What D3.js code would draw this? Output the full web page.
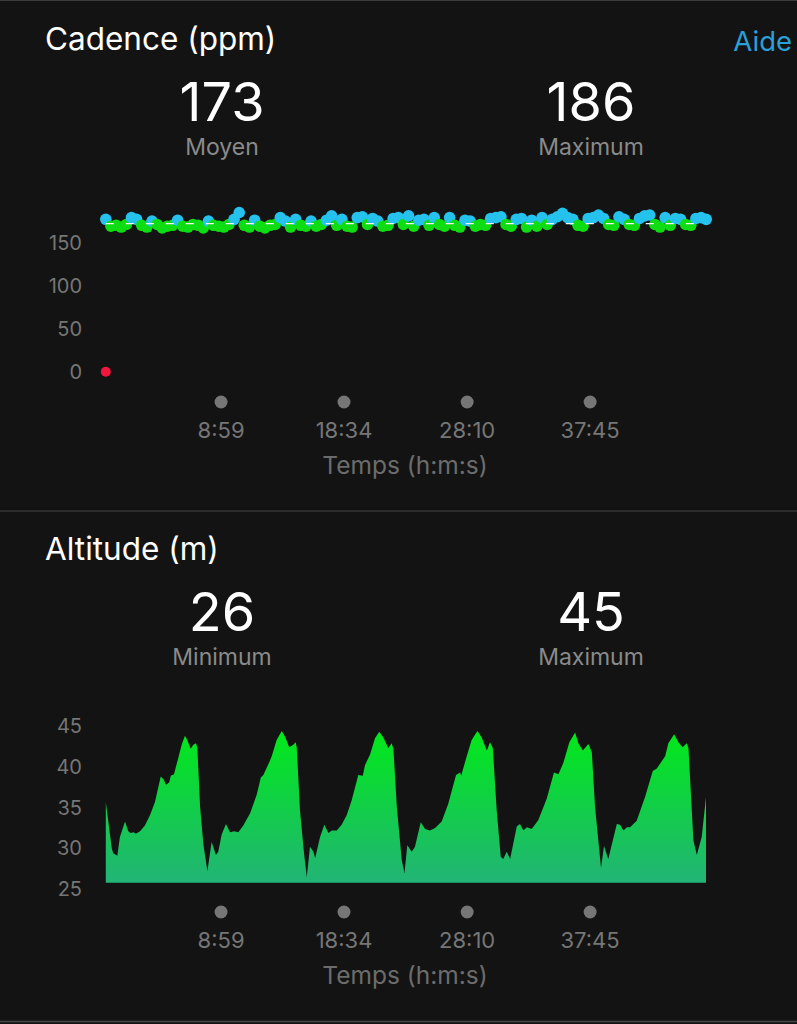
<!DOCTYPE html>
<html>
<head>
<meta charset="utf-8">
<script src="https://cdn.jsdelivr.net/npm/d3@7"></script>
<style>
  html, body { margin: 0; padding: 0; background: #131313; }
  svg { display: block; }
  text { font-family: Inter, Roboto, "Noto Sans", sans-serif; }
</style>
</head>
<body>
<script>
// ---------------- DATA ----------------
const timeTickSeconds = [539, 1114, 1690, 2265];
const timeTickLabels = ["8:59", "18:34", "28:10", "37:45"];
const totalSeconds = 2807;

// Cadence (ppm) — one sample every cadenceInterval seconds
const cadenceInterval = 24;
const cadenceValues = [
  178,170,171,169,172,180,178,171,169,176,172,168,170,171,177,170,169,172,171,168,
  176,171,170,169,172,178,186,171,169,177,170,168,171,172,180,176,169,178,171,170,
  176,170,172,177,182,171,178,170,169,180,181,172,179,176,170,171,179,180,172,182,
  170,177,178,171,180,172,170,180,171,169,177,176,170,172,171,179,180,181,172,170,
  178,179,169,177,170,180,172,178,181,185,180,178,171,170,179,180,183,179,172,171,
  181,178,172,171,179,182,183,172,169,180,171,179,178,172,171,179,180,178
];
const cadenceDropoutTimes = [0];
const cadenceDropoutValues = [0];
const cadenceAverage = 173;
const cadenceMax = 186;
const cadenceTicks = [0, 50, 100, 150];
// Garmin cadence zones: lower bound of zone -> colour
const cadenceZoneBounds = [1, 174];
const cadenceZoneColors = ["#f2163f", "#0ddd12", "#25c2ee"];

// Altitude (m)
const altitudeTimes = [
  0,28,35,54,66,90,105,116,129,141,160,183,207,230,257,269,282,297,304,319,
  334,355,370,381,397,409,422,428,441,456,475,495,515,526,542,562,581,600,620,643,
  675,706,725,737,765,776,799,823,838,858,877,888,893,908,927,940,955,971,979,1002,
  1022,1041,1057,1080,1103,1127,1150,1181,1202,1212,1236,1259,1279,1298,1321,1337,1345,1361,1384,1397,
  1410,1431,1446,1473,1493,1516,1540,1571,1602,1638,1657,1662,1688,1711,1738,1758,1782,1797,1810,1828,
  1847,1859,1875,1891,1922,1937,1953,1969,1992,2023,2062,2096,2117,2140,2168,2195,2210,2231,2257,2273,
  2288,2316,2330,2350,2390,2405,2421,2437,2452,2483,2522,2558,2577,2616,2631,2658,2678,2698,2717,2725,
  2748,2764,2787,2807
];
const altitudeValues = [
  35.7,30.0,29.4,29.1,31.4,33.3,32.1,31.9,32.0,31.8,32.1,32.8,34.1,35.7,38.8,38.5,37.8,38.1,38.9,39.1,
  40.6,42.7,43.8,43.3,42.2,42.7,42.9,42.3,35.1,30.6,27.2,30.8,29.2,29.6,31.7,33.0,32.0,32.1,32.0,32.8,
  34.3,36.6,38.7,39.0,40.6,41.3,43.3,44.4,43.7,42.4,42.7,43.0,42.4,34.7,29.4,26.5,30.2,29.6,28.8,31.4,
  32.9,31.9,32.2,32.2,32.9,34.1,35.9,39.0,38.9,40.2,41.5,43.5,44.3,43.6,42.3,42.9,42.2,35.1,28.6,27.0,
  30.4,29.6,30.2,33.2,32.4,32.2,32.5,33.3,35.5,39.0,39.3,38.9,41.3,43.3,44.4,43.6,42.0,43.0,42.3,34.7,
  29.0,28.7,29.6,28.7,32.7,33.0,32.2,32.6,32.4,33.5,36.1,39.3,39.1,40.5,43.0,44.2,42.9,42.0,42.8,41.8,
  35.1,27.6,30.3,28.7,33.0,32.9,32.2,32.6,32.6,33.4,36.3,39.5,39.8,41.3,42.9,44.0,43.0,42.4,42.9,42.3,
  31.0,29.2,31.4,36.3
];
const altitudeMin = 26;
const altitudeMax = 45;
const altitudeBase = 25.8;
const altitudeTicks = [25, 30, 35, 40, 45];

// ---------------- DRAW ----------------
const W = 797, H = 1024;
const svg = d3.select("body").append("svg").attr("width", W).attr("height", H);
svg.append("rect").attr("width", W).attr("height", H).attr("fill", "#131313");

// borders / separators
const sepColor = "#474747";
svg.append("line").attr("x1", 0).attr("x2", W).attr("y1", 0.5).attr("y2", 0.5).attr("stroke", "#3a3a3a");
svg.append("line").attr("x1", 0).attr("x2", W).attr("y1", 511).attr("y2", 511).attr("stroke", sepColor).attr("stroke-width", 1.2);
svg.append("line").attr("x1", 0).attr("x2", W).attr("y1", 1021.5).attr("y2", 1021.5).attr("stroke", sepColor).attr("stroke-width", 1.5);

const x = d3.scaleLinear().domain([0, totalSeconds]).range([105.8, 706]);

function header(g, title, stats, showHelp) {
  g.append("text").attr("x", 45).attr("y", 50).attr("fill", "#ffffff")
    .attr("font-size", 31.5).text(title);
  if (showHelp) {
    g.append("text").attr("x", 792).attr("y", 51).attr("text-anchor", "end")
      .attr("fill", "#2a9fd8").attr("font-size", 27.5).text("Aide");
  }
  const cx = [222, 591];
  stats.forEach((s, i) => {
    g.append("text").attr("x", cx[i]).attr("y", 120.5).attr("text-anchor", "middle")
      .attr("fill", "#ffffff").attr("font-size", 54).text(s.value);
    g.append("text").attr("x", cx[i]).attr("y", 155).attr("text-anchor", "middle")
      .attr("fill", "#8a8a8a").attr("font-size", 23).text(s.label);
  });
}

function timeAxis(g) {
  const ax = g.append("g");
  ax.selectAll("circle").data(timeTickSeconds).join("circle")
    .attr("cx", d => x(d)).attr("cy", 402).attr("r", 6.5).attr("fill", "#767676");
  ax.selectAll("text.tl").data(timeTickSeconds).join("text").attr("class", "tl")
    .attr("x", d => x(d)).attr("y", 438).attr("text-anchor", "middle")
    .attr("fill", "#767676").attr("font-size", 22)
    .text((d, i) => timeTickLabels[i]);
  ax.append("text").attr("x", 405).attr("y", 474).attr("text-anchor", "middle")
    .attr("fill", "#6c6c6c").attr("font-size", 24.5).text("Temps (h:m:s)");
}

function yAxis(g, scale, ticks) {
  const axis = d3.axisLeft(scale).tickValues(ticks).tickSize(0).tickPadding(0);
  const a = g.append("g").attr("transform", "translate(82,0)").call(axis);
  a.select(".domain").remove();
  a.selectAll("text").attr("fill", "#767676").attr("font-size", 20)
    .attr("font-family", "Inter, Roboto, sans-serif");
}

// ---- Cadence panel ----
const gc = svg.append("g");
header(gc, "Cadence (ppm)", [{value: 173, label: "Moyen"}, {value: cadenceMax, label: "Maximum"}], true);
const yc = d3.scaleLinear().domain([0, 150]).range([371.7, 243.3]);
yAxis(gc, yc, cadenceTicks);

const zone = d3.scaleThreshold().domain(cadenceZoneBounds).range(cadenceZoneColors);
const cadencePts = cadenceValues.map((v, i) => ({t: i * cadenceInterval, v}));
const dropPts = cadenceDropoutTimes.map((t, i) => ({t, v: cadenceDropoutValues[i]}));
gc.append("g").selectAll("circle").data(cadencePts).join("circle")
  .attr("cx", d => x(d.t)).attr("cy", d => yc(d.v)).attr("r", 5.8)
  .attr("fill", d => zone(d.v));
gc.append("g").selectAll("circle").data(dropPts).join("circle")
  .attr("cx", d => x(d.t)).attr("cy", d => yc(d.v)).attr("r", 5)
  .attr("fill", d => zone(d.v));
gc.append("line").attr("x1", x(0)).attr("x2", x(totalSeconds))
  .attr("y1", yc(cadenceAverage)).attr("y2", yc(cadenceAverage))
  .attr("stroke", "#f4f4f4").attr("stroke-width", 1.4).attr("stroke-dasharray", "8,12");
timeAxis(gc);

// ---- Altitude panel ----
const ga = svg.append("g").attr("transform", "translate(0,510)");
header(ga, "Altitude (m)", [{value: altitudeMin, label: "Minimum"}, {value: altitudeMax, label: "Maximum"}], false);
const ya = d3.scaleLinear().domain([25, 45]).range([379.3, 216]);
yAxis(ga, ya, altitudeTicks);

const defs = svg.append("defs");
const grad = defs.append("linearGradient").attr("id", "altGrad")
  .attr("gradientUnits", "userSpaceOnUse")
  .attr("x1", 0).attr("x2", 0).attr("y1", ya(45)).attr("y2", ya(altitudeBase));
grad.append("stop").attr("offset", 0).attr("stop-color", "#00ea16");
grad.append("stop").attr("offset", 1).attr("stop-color", "#22b476");

const altData = altitudeTimes.map((t, i) => ({t, v: altitudeValues[i]}));
const area = d3.area().x(d => x(d.t)).y0(ya(altitudeBase)).y1(d => ya(d.v));
ga.append("path").datum(altData).attr("d", area).attr("fill", "url(#altGrad)");
timeAxis(ga);
</script>
</body>
</html>
